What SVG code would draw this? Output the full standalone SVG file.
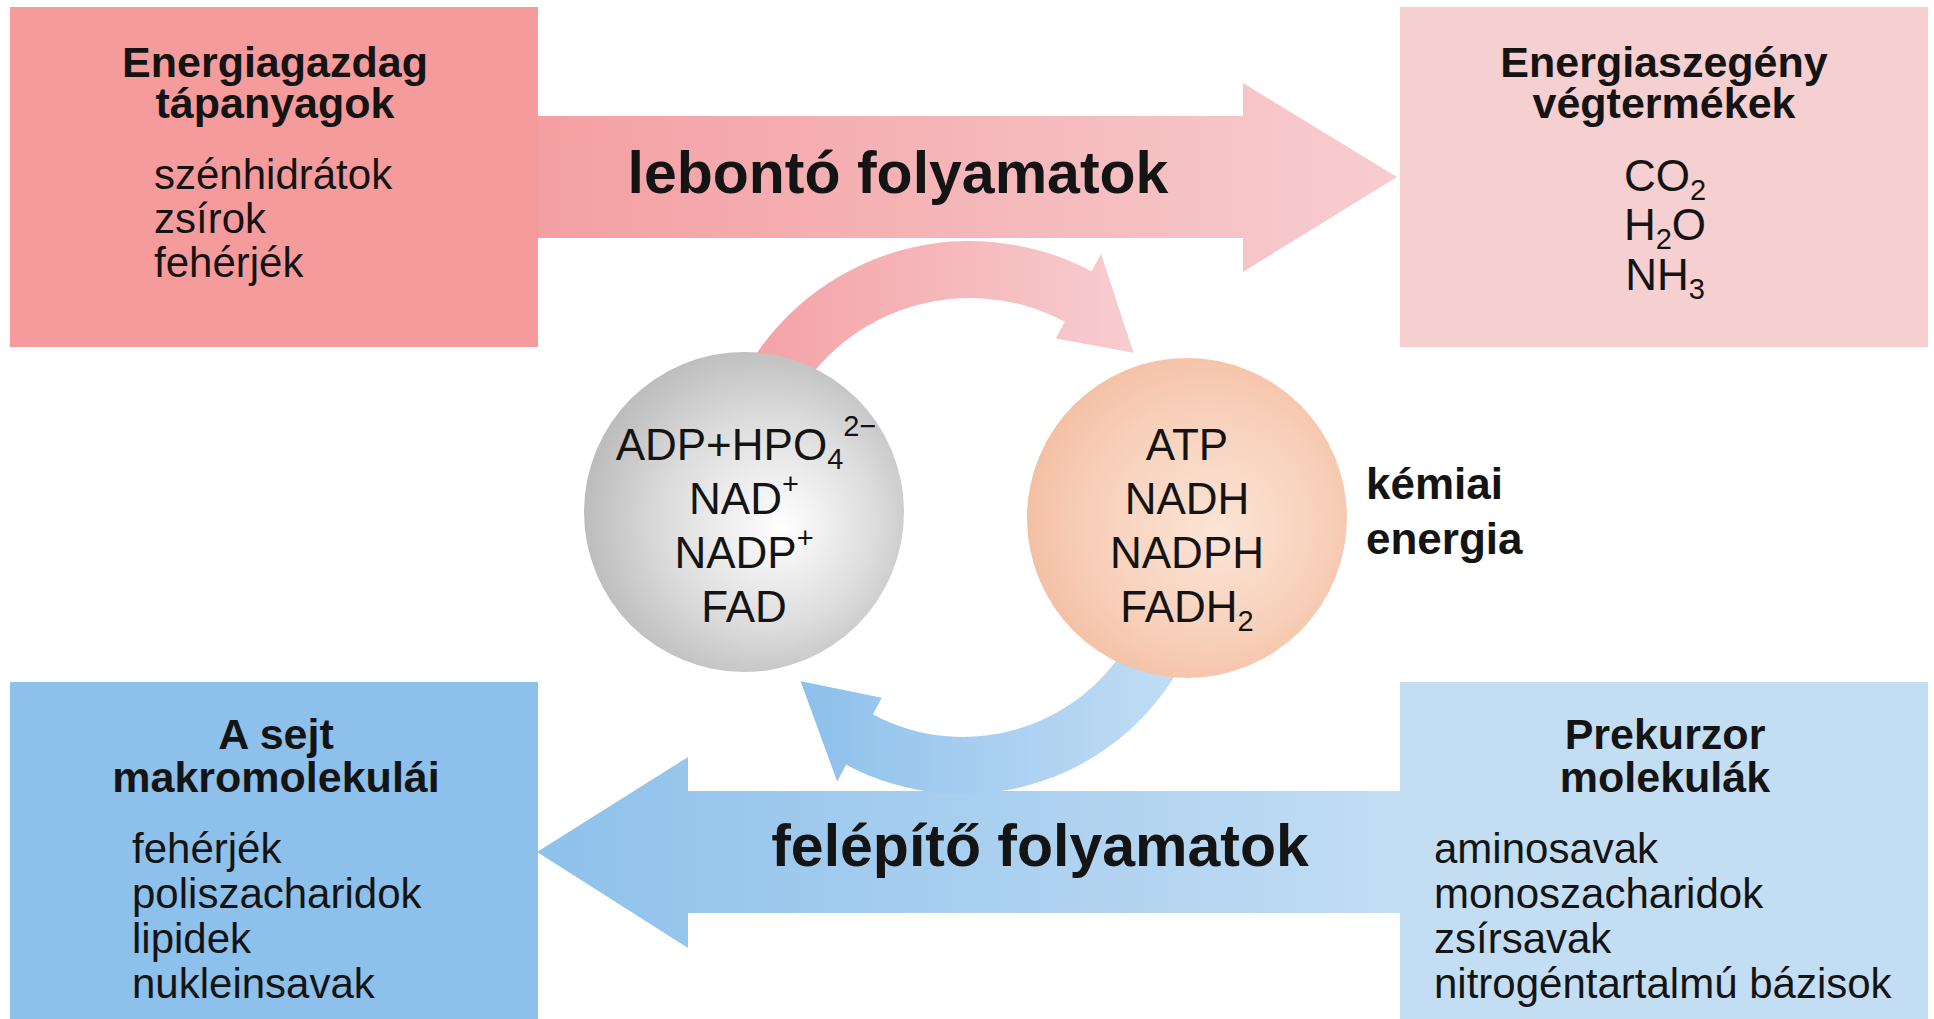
<svg xmlns="http://www.w3.org/2000/svg" width="1934" height="1019" viewBox="0 0 1934 1019">
<defs>
<linearGradient id="gTop" x1="0" y1="0" x2="1" y2="0"><stop offset="0" stop-color="#F49FA2"/><stop offset="1" stop-color="#F7CDD0"/></linearGradient>
<linearGradient id="gBot" x1="0" y1="0" x2="1" y2="0"><stop offset="0" stop-color="#8EC1EB"/><stop offset="1" stop-color="#C3DDF4"/></linearGradient>
<linearGradient id="gCurTop" x1="0" y1="0" x2="1" y2="0"><stop offset="0" stop-color="#F4A0A4"/><stop offset="1" stop-color="#F7CDD0"/></linearGradient>
<linearGradient id="gCurBot" x1="0" y1="0" x2="1" y2="0"><stop offset="0" stop-color="#8DC0EB"/><stop offset="1" stop-color="#C4DEF5"/></linearGradient>
<radialGradient id="gGray" cx="0.55" cy="0.52" r="0.6" fx="0.62" fy="0.55"><stop offset="0" stop-color="#FFFFFF"/><stop offset="0.55" stop-color="#DCDCDC"/><stop offset="1" stop-color="#B6B6B6"/></radialGradient>
<radialGradient id="gOrange" cx="0.55" cy="0.5" r="0.6" fx="0.6" fy="0.55"><stop offset="0" stop-color="#FCE4D6"/><stop offset="0.6" stop-color="#F8D0BA"/><stop offset="1" stop-color="#F3BC9F"/></radialGradient>
</defs>
<style>
text{font-family:"Liberation Sans",Arial,sans-serif;fill:#141414}
.t{font-size:43px;font-weight:bold;text-anchor:middle}
.i{font-size:42px}
.c{font-size:44px;text-anchor:middle}
.big{font-size:59px;font-weight:bold;text-anchor:middle}
.k{font-size:44px;font-weight:bold}
.s{font-size:29px}
</style>
<rect width="1934" height="1019" fill="#FFFFFF"/>

<g id="connectors">
<path id="arrow-lebonto" d="M530 116 H1243 V83 L1397 177 L1243 272 V238 H530 Z" fill="url(#gTop)"/>
<path id="arrow-felepito" d="M1405 791 H688 V757 L537 852 L688 948 V913 H1405 Z" fill="url(#gBot)"/>
<path id="cycle-top" d="M735.3 390.5 A259 259 0 0 1 1091.6 271.3 L1101 253.7 L1133.5 352.8 L1055.9 338.4 L1064.8 321.7 A202 202 0 0 0 786.9 414.6 Z" fill="url(#gCurTop)"/>
<path id="cycle-bottom" d="M1188.7 650.2 A249 249 0 0 1 846.1 764.8 L837.2 781.6 L800.6 681.3 L881.8 697.7 L872.9 714.5 A192 192 0 0 0 1137 626.1 Z" fill="url(#gCurBot)"/>
<text class="big" x="898" y="193">lebontó folyamatok</text>
<text class="big" x="1040" y="866">felépítő folyamatok</text>
</g>

<g id="node-energiagazdag">
<rect x="10" y="7" width="528" height="340" fill="#F59B9C"/>
<text class="t" x="275" y="77">Energiagazdag</text>
<text class="t" x="275" y="118">tápanyagok</text>
<text class="i" x="154" y="189">szénhidrátok</text>
<text class="i" x="154" y="233">zsírok</text>
<text class="i" x="154" y="277">fehérjék</text>
</g>

<g id="node-energiaszegeny">
<rect x="1400" y="7" width="528" height="340" fill="#F6CFD1"/>
<text class="t" x="1664" y="77">Energiaszegény</text>
<text class="t" x="1664" y="118">végtermékek</text>
<text class="c" x="1665" y="191">CO<tspan class="s" dy="9">2</tspan></text>
<text class="c" x="1665" y="240">H<tspan class="s" dy="9">2</tspan><tspan dy="-9">O</tspan></text>
<text class="c" x="1665" y="290">NH<tspan class="s" dy="9">3</tspan></text>
</g>

<g id="node-makromolekulak">
<rect x="10" y="682" width="528" height="337" fill="#8DC0EB"/>
<text class="t" x="276" y="749">A sejt</text>
<text class="t" x="276" y="792">makromolekulái</text>
<text class="i" x="132" y="863">fehérjék</text>
<text class="i" x="132" y="908">poliszacharidok</text>
<text class="i" x="132" y="953">lipidek</text>
<text class="i" x="132" y="998">nukleinsavak</text>
</g>

<g id="node-prekurzor">
<rect x="1400" y="682" width="528" height="337" fill="#C3DDF3"/>
<text class="t" x="1665" y="749">Prekurzor</text>
<text class="t" x="1665" y="792">molekulák</text>
<text class="i" x="1434" y="863">aminosavak</text>
<text class="i" x="1434" y="908">monoszacharidok</text>
<text class="i" x="1434" y="953">zsírsavak</text>
<text class="i" x="1434" y="998">nitrogéntartalmú bázisok</text>
</g>

<g id="node-oxidalt">
<circle cx="744" cy="512" r="160" fill="url(#gGray)"/>
<text class="c" x="746" y="460">ADP+HPO<tspan class="s" dy="9">4</tspan><tspan class="s" dy="-33">2−</tspan></text>
<text class="c" x="744" y="514">NAD<tspan class="s" dy="-20">+</tspan></text>
<text class="c" x="744" y="568">NADP<tspan class="s" dy="-20">+</tspan></text>
<text class="c" x="744" y="622">FAD</text>
</g>

<g id="node-redukalt">
<circle cx="1187" cy="518" r="160" fill="url(#gOrange)"/>
<text class="c" x="1187" y="460">ATP</text>
<text class="c" x="1187" y="514">NADH</text>
<text class="c" x="1187" y="568">NADPH</text>
<text class="c" x="1187" y="622">FADH<tspan class="s" dy="9">2</tspan></text>
</g>

<g id="node-kemiai-energia">
<text class="k" x="1366" y="499">kémiai</text>
<text class="k" x="1366" y="554">energia</text>
</g>
</svg>
